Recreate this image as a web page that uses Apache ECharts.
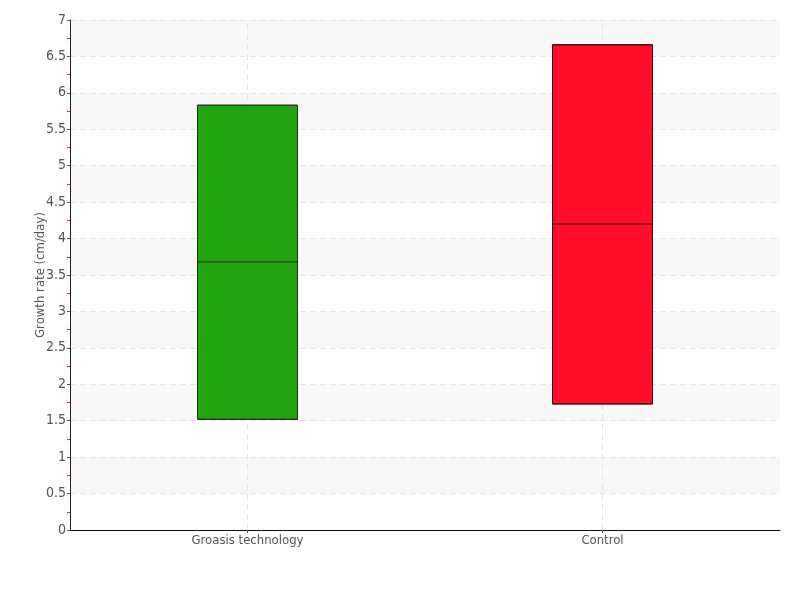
<!DOCTYPE html>
<html>
<head>
<meta charset="utf-8">
<script src="https://cdn.jsdelivr.net/npm/echarts@6/dist/echarts.min.js"></script>
<style>html,body{margin:0;padding:0;background:#fff;}#main{width:800px;height:600px;}</style>
</head>
<body>
<div id="main"></div>
<script>
var categories = ['Groasis technology', 'Control'];
var boxLow = [1.52, 1.73];
var boxMedian = [3.68, 4.20];
var boxHigh = [5.83, 6.66];
var fillColors = ['#22a511', '#ff0d2a'];
var borderColors = ['#1f2f1a', '#3a1012'];
var yTicks = [0, 0.5, 1, 1.5, 2, 2.5, 3, 3.5, 4, 4.5, 5, 5.5, 6, 6.5, 7];

var font = '"DejaVu Sans Condensed", "DejaVu Sans", sans-serif';

var boxData = categories.map(function (c, i) {
  return {
    value: [boxLow[i], boxLow[i], boxMedian[i], boxHigh[i], boxHigh[i]],
    itemStyle: { color: fillColors[i], borderColor: borderColors[i], borderWidth: 1 }
  };
});

var chart = echarts.init(document.getElementById('main'), null, { renderer: 'canvas' });
chart.setOption({
  animation: false,
  backgroundColor: '#ffffff',
  grid: { left: 70, right: 20, top: 20, bottom: 70 },
  xAxis: {
    type: 'category',
    data: categories,
    boundaryGap: true,
    axisLine: { lineStyle: { color: '#111', width: 1 } },
    axisTick: { show: true, alignWithLabel: true, length: 3, lineStyle: { color: '#555' } },
    axisLabel: { color: '#555', fontFamily: font, fontSize: 13, margin: 4 },
    splitLine: { show: false }
  },
  yAxis: {
    type: 'value',
    min: yTicks[0],
    max: yTicks[yTicks.length - 1],
    interval: 0.5,
    name: 'Growth rate (cm/day)',
    nameLocation: 'middle',
    nameGap: 23,
    nameMoveOverlap: false,
    nameTextStyle: { color: '#555', fontFamily: font, fontSize: 13 },
    axisLine: { show: true, lineStyle: { color: '#222', width: 1 } },
    axisTick: { show: true, length: 3, lineStyle: { color: '#555' } },
    minorTick: { show: true, splitNumber: 2, length: 3, lineStyle: { color: '#ff2020' } },
    axisLabel: { color: '#555', fontFamily: font, fontSize: 14, margin: 4 },
    splitLine: { show: true, lineStyle: { color: '#e6e6e6', type: [6, 4], width: 1 } },
    splitArea: { show: true, areaStyle: { color: ['rgba(255,255,255,0)', '#f8f8f8'] } }
  },
  series: [
    {
      type: 'line',
      data: [],
      z: 1,
      silent: true,
      markLine: {
        z: 1,
        silent: true,
        symbol: ['none', 'none'],
        label: { show: false },
        lineStyle: { color: '#e6e6e6', type: [6, 4], width: 1 },
        data: categories.map(function (c) { return { xAxis: c }; })
      }
    },
    {
      type: 'boxplot',
      z: 3,
      boxWidth: [100, 100],
      data: boxData
    }
  ]
});
</script>
</body>
</html>
